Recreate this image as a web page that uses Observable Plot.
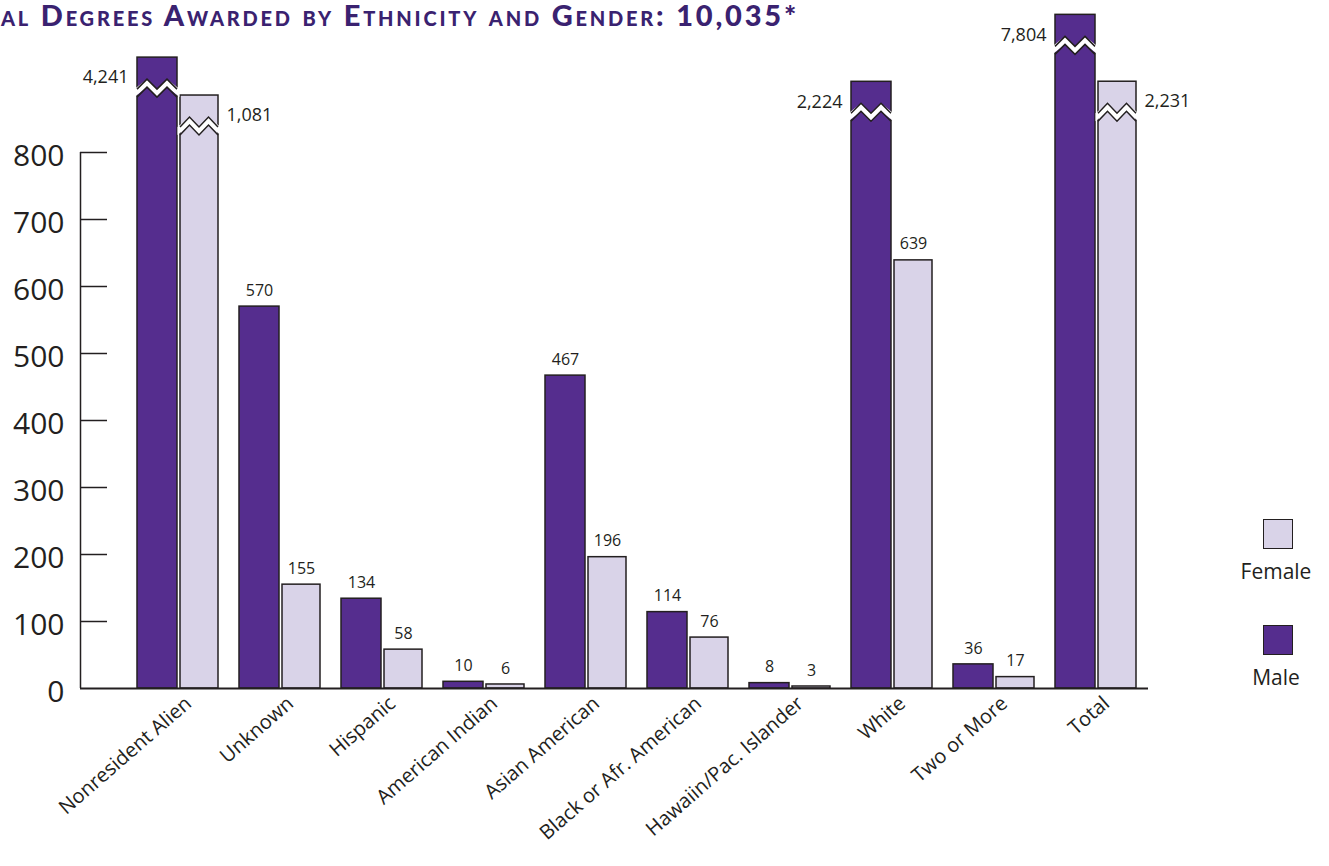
<!DOCTYPE html>
<html>
<head>
<meta charset="utf-8">
<script src="https://cdn.jsdelivr.net/npm/d3@7"></script>
<script src="https://cdn.jsdelivr.net/npm/@observablehq/plot@0.6"></script>
<style>
  body { margin: 0; background: #fff; }
  #wrap { position: relative; width: 1329px; height: 866px; overflow: hidden; font-family: "Open Sans", sans-serif; color: #231f20; }
  #chart { position: absolute; left: 0; top: 0; }
  #title { position: absolute; left: 1px; top: -3px; font-family: Lato, sans-serif; font-weight: 900; font-size: 29px; font-variant: small-caps; color: #3a2270; white-space: nowrap; letter-spacing: 2.8px; }
  .sw { position: absolute; box-sizing: border-box; width: 30px; height: 30px; border: 1.5px solid #231f20; }
  .lt { position: absolute; width: 100px; text-align: center; font-size: 21px; line-height: 26px; }
</style>
</head>
<body>
<div id="wrap">
  <div id="chart"></div>
  <div id="title">al Degrees Awarded by Ethnicity and Gender: 10,035*</div>
  <div class="sw" style="left:1263px;top:519px;background:#d9d3e8"></div>
  <div class="lt" style="left:1226px;top:558px">Female</div>
  <div class="sw" style="left:1263px;top:625px;background:#552d8e"></div>
  <div class="lt" style="left:1226px;top:664px">Male</div>
</div>
<script>
const categories = ["Nonresident Alien", "Unknown", "Hispanic", "American Indian", "Asian American",
  "Black or Afr. American", "Hawaiin/Pac. Islander", "White", "Two or More", "Total"];
const maleValues = [4241, 570, 134, 10, 467, 114, 8, 2224, 36, 7804];
const femaleValues = [1081, 155, 58, 6, 196, 76, 3, 639, 17, 2231];
const genders = ["Male", "Female"];
const genderColors = ["#552d8e", "#d9d3e8"];
const yTicks = [0, 100, 200, 300, 400, 500, 600, 700, 800];
const breakAbove = 800;

const rows = [];
categories.forEach((c, i) => {
  rows.push({category: c, gender: "Male", value: maleValues[i]});
  rows.push({category: c, gender: "Female", value: femaleValues[i]});
});
const fmt = d3.format(",");
const ink = "#231f20";
const isMale = d => d.gender === "Male";
const inset = {Male: [10, 52], Female: [53, 11]};

function breakMark(...args) {
  const scales = args.find(a => a && typeof a.x === "function" && typeof a.y === "function");
  const x = scales.x, y = scales.y, bw = x.bandwidth();
  const g = d3.create("svg:g");
  rows.filter(d => d.value > breakAbove).forEach(d => {
    const [il, ir] = inset[d.gender];
    const x0 = x(d.category) + il, x1 = x(d.category) + bw - ir, w = x1 - x0;
    const t = y(d.value) + 22, amp = 10, th = 8;
    const xs = [x0, x0 + w / 4, x0 + w / 2, x0 + 3 * w / 4, x1];
    const up = xs.map((xx, k) => [xx, t + (k % 2 === 0 ? amp : 0)]);
    const lo = up.map(([xx, yy]) => [xx, yy + th]);
    const ext = pts => pts.map(([xx, yy], k) => [k === 0 ? xx - 2.5 : k === pts.length - 1 ? xx + 2.5 : xx, yy]);
    const poly = ext(up).concat(ext(lo).reverse());
    g.append("path").attr("d", "M" + poly.join("L") + "Z").attr("fill", "#fff");
    g.append("path").attr("d", "M" + up.join("L")).attr("fill", "none").attr("stroke", ink).attr("stroke-width", 1.5);
    g.append("path").attr("d", "M" + lo.join("L")).attr("fill", "none").attr("stroke", ink).attr("stroke-width", 1.5);
  });
  return g.node();
}

const normal = rows.filter(d => d.value <= breakAbove);
const broken = rows.filter(d => d.value > breakAbove);

const chart = Plot.plot({
  width: 1329,
  height: 866,
  marginLeft: 80,
  marginRight: 181,
  marginTop: 152,
  marginBottom: 178,
  style: {fontFamily: "'Open Sans', sans-serif", color: ink, background: "transparent"},
  x: {domain: categories, range: [127, 1147], padding: 0, label: null},
  y: {type: "linear", domain: [0, 800, 1000, 8000], range: [688, 152, 96, 12], label: null},
  color: {domain: genders, range: genderColors},
  marks: [
    Plot.ruleY(yTicks.filter(v => v > 0), {stroke: ink, strokeWidth: 1.5, insetRight: 1068 - 27}),
    Plot.ruleX([categories[0]], {y1: 0, y2: 800, dx: -98, stroke: ink, strokeWidth: 1.5}),
    Plot.barY(rows.filter(isMale), {x: "category", y: "value", fill: "gender", stroke: ink, strokeWidth: 1.5, insetLeft: inset.Male[0], insetRight: inset.Male[1]}),
    Plot.barY(rows.filter(d => !isMale(d)), {x: "category", y: "value", fill: "gender", stroke: ink, strokeWidth: 1.5, insetLeft: inset.Female[0], insetRight: inset.Female[1]}),
    breakMark,
    Plot.ruleY([0], {stroke: ink, strokeWidth: 2}),
    Plot.axisY({ticks: yTicks, tickSize: 0, tickPadding: 16, fontSize: 30, tickFormat: d => d, dy: 4}),
    Plot.axisX({tickSize: 0, tickRotate: -41, fontSize: 20, tickPadding: 12, dx: 10}),
    Plot.text(normal.filter(isMale), {x: "category", y: "value", text: d => fmt(d.value), dx: -21, dy: -16, fontSize: 16}),
    Plot.text(normal.filter(d => !isMale(d)), {x: "category", y: "value", text: d => fmt(d.value), dx: 21, dy: -16, fontSize: 16}),
    Plot.text(broken.filter(isMale), {x: "category", y: "value", text: d => fmt(d.value), dx: -50, dy: 20, fontSize: 18, textAnchor: "end"}),
    Plot.text(broken.filter(d => !isMale(d)), {x: "category", y: "value", text: d => fmt(d.value), dx: 48, dy: 20, fontSize: 18, textAnchor: "start"})
  ]
});
document.getElementById("chart").appendChild(chart);
</script>
</body>
</html>
